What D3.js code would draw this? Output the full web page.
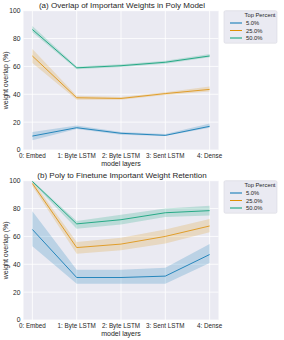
<!DOCTYPE html>
<html>
<head>
<meta charset="utf-8">
<script src="https://cdn.jsdelivr.net/npm/d3@7"></script>
<style>
  body { margin: 0; background: #fff; }
  svg text { font-family: "Liberation Sans", Arial, sans-serif; fill: #262626; }
</style>
</head>
<body>
<svg id="chart" width="284" height="340"></svg>
<script>
/* Two seaborn-style line panels with confidence bands. */
var layers = ["0: Embed", "1: Byte LSTM", "2: Byte LSTM", "3: Sent LSTM", "4: Dense"];
var percents = ["5.0%", "25.0%", "50.0%"];
var colors = ["#0173b2", "#de8f05", "#029e73"];
var yTicks = [0, 20, 40, 60, 80, 100];

// panel (a): mean, low, high per series
var polyMean = [[10, 16, 12, 10.5, 17], [67.5, 37.5, 37, 40.5, 43.5], [86.5, 59, 60.5, 63, 67.5]];
var polyLow = [[7, 15, 11, 10, 16], [62.5, 36, 36, 39.5, 42], [84.5, 58, 59.5, 62, 66.5]];
var polyHigh = [[13, 17.5, 13, 11.5, 19], [72.5, 39, 38, 41.5, 45.5], [89, 60, 61.5, 64, 69]];

// panel (b)
var ftMean = [[65, 30.5, 30.5, 31.5, 47], [98, 52, 54.5, 60, 67.5], [99.5, 69, 72, 77, 78.5]];
var ftLow = [[53, 26, 26, 26, 41], [96, 47.5, 50, 55, 63], [98.5, 65.5, 68.5, 74, 75]];
var ftHigh = [[78, 36, 36, 37.5, 54.5], [100, 56, 59, 65, 72.5], [100, 71, 75.5, 80, 82]];

var titles = ["(a) Overlap of Important Weights in Poly Model",
              "(b) Poly to Finetune Important Weight Retention"];

var svg = d3.select("#chart");
var L = 23.5, R = 218.5;

function panel(offY, title, mean, low, high) {
  var top = offY + 10.7, bottom = offY + 150;
  var x = d3.scaleLinear().domain([-0.2, 4.2]).range([L, R]);
  var y = d3.scaleLinear().domain([0, 100]).range([bottom, top]);
  var g = svg.append("g");

  g.append("rect").attr("x", L).attr("y", top).attr("width", R - L).attr("height", bottom - top)
    .attr("fill", "#eaeaf2");
  g.selectAll(".gx").data(layers).enter().append("line")
    .attr("x1", function (d, i) { return x(i); }).attr("x2", function (d, i) { return x(i); })
    .attr("y1", top).attr("y2", bottom).attr("stroke", "#fff").attr("stroke-width", 0.8);
  g.selectAll(".gy").data(yTicks).enter().append("line")
    .attr("x1", L).attr("x2", R)
    .attr("y1", function (d) { return y(d); }).attr("y2", function (d) { return y(d); })
    .attr("stroke", "#fff").attr("stroke-width", 0.8);

  var area = d3.area().x(function (d, i) { return x(i); })
    .y0(function (d) { return y(d[0]); }).y1(function (d) { return y(d[1]); });
  var line = d3.line().x(function (d, i) { return x(i); }).y(function (d) { return y(d); });

  percents.forEach(function (p, s) {
    var band = low[s].map(function (v, i) { return [v, high[s][i]]; });
    g.append("path").attr("d", area(band)).attr("fill", colors[s]).attr("fill-opacity", 0.2);
    g.append("path").attr("d", line(mean[s])).attr("fill", "none")
      .attr("stroke", colors[s]).attr("stroke-width", 1).attr("stroke-opacity", 0.8);
  });

  g.selectAll(".yt").data(yTicks).enter().append("text")
    .attr("x", L - 3).attr("y", function (d) { return y(d) + 2.4; })
    .attr("text-anchor", "end").attr("font-size", 6.7).text(function (d) { return d; });
  g.selectAll(".xt").data(layers).enter().append("text")
    .attr("x", function (d, i) { return x(i); }).attr("y", bottom + 8)
    .attr("text-anchor", "middle").attr("font-size", 6.3).text(function (d) { return d; });

  g.append("text").attr("x", (L + R) / 2 + 1).attr("y", offY + 8.3)
    .attr("text-anchor", "middle").attr("font-size", 8).text(title);
  g.append("text").attr("x", (L + R) / 2).attr("y", bottom + 15.8)
    .attr("text-anchor", "middle").attr("font-size", 7).text("model layers");
  g.append("text").attr("transform", "translate(7.5," + ((top + bottom) / 2) + ") rotate(-90)")
    .attr("text-anchor", "middle").attr("font-size", 7).text("weight overlap (%)");

  // legend
  var lg = g.append("g").attr("transform", "translate(224," + (offY + 10.7) + ")");
  lg.append("rect").attr("width", 53).attr("height", 32.5).attr("rx", 1.5)
    .attr("fill", "#eaeaf2").attr("stroke", "#d8d8e0").attr("stroke-width", 0.6);
  lg.append("text").attr("x", 36).attr("y", 6.8).attr("text-anchor", "middle")
    .attr("font-size", 5.8).text("Top Percent");
  percents.forEach(function (p, s) {
    var yy = 12.3 + s * 7.5;
    lg.append("line").attr("x1", 6).attr("x2", 18).attr("y1", yy).attr("y2", yy)
      .attr("stroke", colors[s]).attr("stroke-width", 1);
    lg.append("text").attr("x", 22).attr("y", yy + 2.1).attr("font-size", 5.8).text(p);
  });
}

panel(0, titles[0], polyMean, polyLow, polyHigh);
panel(170, titles[1], ftMean, ftLow, ftHigh);
</script>
</body>
</html>
